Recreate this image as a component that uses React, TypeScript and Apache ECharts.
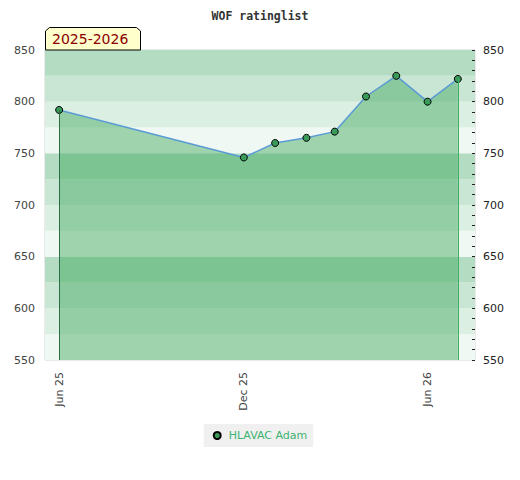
import React, { useEffect, useRef } from "react";
import * as echarts from "echarts";

const titleText = "WOF ratinglist";
const seasonLabel = "2025-2026";
const playerName = "HLAVAC Adam";
const dates = [
  "2025-06-01",
  "2025-12-01",
  "2026-01-01",
  "2026-02-01",
  "2026-03-01",
  "2026-04-01",
  "2026-05-01",
  "2026-06-01",
  "2026-07-01",
];
const ratings = [792, 746, 760, 765, 771, 805, 825, 800, 822];
const xLabelDates = ["2025-06-01", "2025-12-01", "2026-06-01"];
const xMin = "2025-05-18";
const xMax = "2026-07-18";
const yMin = 550;
const yMax = 850;
const monthNames = ["Jan", "Feb", "Mar", "Apr", "May", "Jun", "Jul", "Aug", "Sep", "Oct", "Nov", "Dec"];

const ts = (s: string) => new Date(s + "T00:00:00Z").getTime();

export default function App() {
  const ref = useRef<HTMLDivElement>(null);
  useEffect(() => {
    if (!ref.current) return;
    const chart = echarts.init(ref.current, undefined, { renderer: "svg" });
    const seriesData = dates.map((d, i) => [ts(d), ratings[i]]);
    const first = seriesData[0];
    const last = seriesData[seriesData.length - 1];
    chart.setOption({
      animation: false,
      backgroundColor: "#ffffff",
      title: {
        text: titleText,
        left: "center",
        top: 5,
        textStyle: {
          fontFamily: "DejaVu Sans Mono",
          fontWeight: "bold",
          fontSize: 11.5,
          color: "#333",
        },
      },
      grid: {
        left: 45,
        right: 45,
        top: 50,
        bottom: 120,
        show: true,
        borderColor: "#d4d4d4",
        borderWidth: 1,
        backgroundColor: "transparent",
      },
      legend: {
        bottom: 33,
        left: "center",
        backgroundColor: "#f0f0f0",
        padding: [6, 6, 6, 9],
        itemWidth: 7,
        itemHeight: 7,
        itemGap: 6,
        icon: "circle",
        textStyle: {
          color: "#3cb371",
          fontFamily: "DejaVu Sans",
          fontSize: 11,
          padding: [0, 0, 0, 3],
        },
        data: [playerName],
      },
      xAxis: {
        type: "value",
        min: ts(xMin),
        max: ts(xMax),
        axisLine: { show: false },
        axisTick: { show: false },
        splitLine: { show: false },
        axisLabel: {
          customValues: xLabelDates.map(ts),
          rotate: 90,
          margin: 12,
          color: "#444",
          fontFamily: "DejaVu Sans",
          fontSize: 11,
          formatter: (v: number) => {
            const d = new Date(v);
            return monthNames[d.getUTCMonth()] + " " + String(d.getUTCFullYear()).slice(2);
          },
        },
      },
      yAxis: [
        {
          type: "value",
          min: yMin,
          max: yMax,
          interval: 25,
          position: "left",
          axisLine: { show: false },
          axisTick: { show: false },
          splitLine: { show: false },
          splitArea: {
            show: true,
            areaStyle: { color: ["#f0f8f3", "#dcefe3", "#c9e6d4", "#b3dcc3"] },
          },
          axisLabel: {
            color: "#444",
            fontFamily: "DejaVu Sans",
            fontSize: 11,
            margin: 10,
            formatter: (v: number) => (v % 50 === 0 ? String(v) : ""),
          },
        },
        {
          type: "value",
          min: yMin,
          max: yMax,
          interval: 10,
          position: "right",
          axisLine: { show: false },
          axisTick: { show: true, inside: true, length: 3, lineStyle: { color: "#222" } },
          splitLine: { show: false },
          axisLabel: {
            color: "#222",
            fontFamily: "DejaVu Sans",
            fontSize: 11,
            margin: 8,
            formatter: (v: number) => (v % 50 === 0 ? String(v) : ""),
          },
        },
      ],
      series: [
        {
          name: playerName,
          type: "line",
          yAxisIndex: 0,
          data: seriesData,
          symbol: "circle",
          symbolSize: 7,
          showAllSymbol: true,
          itemStyle: { color: "#3a9a5a", borderColor: "#000", borderWidth: 1 },
          lineStyle: { color: "#5b9bd5", width: 1.5 },
          areaStyle: { color: "rgba(60,167,91,0.46)", opacity: 1, origin: "start" },
          z: 3,
          markLine: {
            silent: true,
            symbol: "none",
            label: { show: false },
            data: [
              [
                { coord: [first[0], first[1]], lineStyle: { color: "#2a6e45", width: 1, type: "solid" } },
                { coord: [first[0], yMin] },
              ],
              [
                { coord: [last[0], last[1]], lineStyle: { color: "#3cb060", width: 1, type: "solid" } },
                { coord: [last[0], yMin] },
              ],
            ],
          },
        },
      ],
      graphic: [
        {
          type: "polygon",
          z: 10,
          shape: {
            points: [
              [45.5, 50],
              [45.5, 31],
              [49.5, 27.5],
              [136.5, 27.5],
              [140.5, 31],
              [140.5, 50],
            ],
          },
          style: { fill: "#ffffcc", stroke: "#000", lineWidth: 1 },
        },
        {
          type: "text",
          z: 11,
          x: 52,
          y: 39,
          style: {
            text: seasonLabel,
            fill: "#8b0000",
            fontFamily: "DejaVu Sans",
            fontSize: 14,
            verticalAlign: "middle",
            align: "left",
          },
        },
      ],
    });
    return () => chart.dispose();
  }, []);
  return (
    <div
      ref={ref}
      style={{ position: "absolute", left: 0, top: 0, width: 520, height: 480 }}
    />
  );
}
